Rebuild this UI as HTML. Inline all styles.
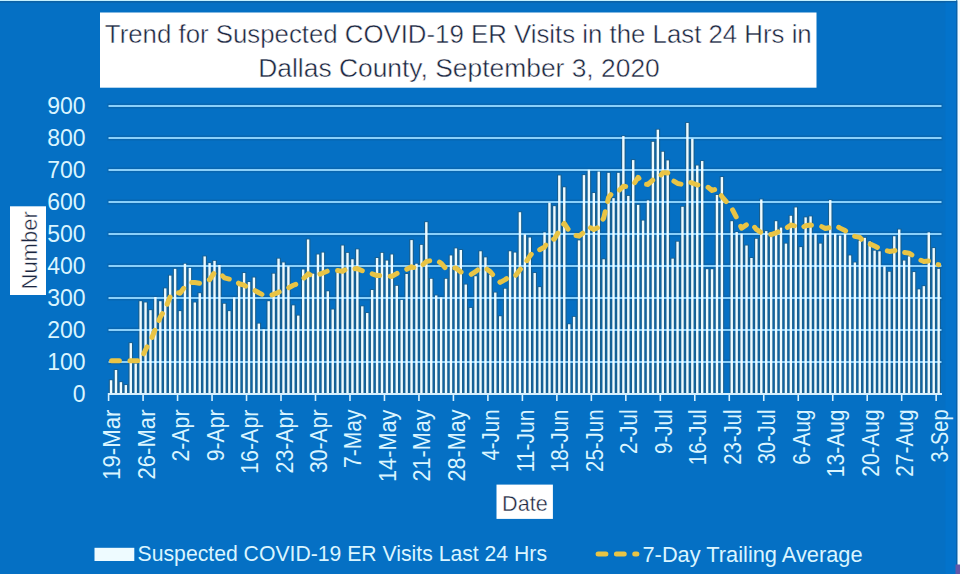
<!DOCTYPE html>
<html><head><meta charset="utf-8"><title>Trend for Suspected COVID-19 ER Visits</title>
<style>html,body{margin:0;padding:0;background:#0570C4;overflow:hidden}svg{display:block}text{font-family:"Liberation Sans",sans-serif}</style>
</head><body>
<svg width="960" height="574" viewBox="0 0 960 574">
<rect x="0" y="0" width="960" height="574" fill="#0570C4"/>
<rect x="0" y="0" width="960" height="1" fill="#C4F0FF"/>
<rect x="0" y="1" width="957" height="1.6" fill="#0C62A6"/>
<rect x="945.5" y="2.5" width="11" height="571.5" fill="#0373CB"/>
<rect x="956.3" y="0" width="1.2" height="574" fill="#0A5C9C"/>
<rect x="957.5" y="0" width="2.5" height="574" fill="#F2FBFF"/>
<rect x="955.5" y="564.5" width="4.5" height="9.5" fill="#6458A8"/>
<rect x="100" y="12.5" width="716.5" height="75.2" fill="#FFFFFF"/>
<text x="458.3" y="43" font-size="25.8" fill="#1B2640" stroke="#FFFFFF" stroke-width="0.45" text-anchor="middle">Trend for Suspected COVID-19 ER Visits in the Last 24 Hrs in</text>
<text x="459" y="77" font-size="26.4" fill="#1B2640" stroke="#FFFFFF" stroke-width="0.45" text-anchor="middle">Dallas County, September 3, 2020</text>
<rect x="108.76" y="379.44" width="4.6" height="14.56" fill="#1A5E8C"/>
<rect x="113.69" y="369.20" width="4.6" height="24.80" fill="#1A5E8C"/>
<rect x="118.62" y="381.36" width="4.6" height="12.64" fill="#1A5E8C"/>
<rect x="123.54" y="384.24" width="4.6" height="9.76" fill="#1A5E8C"/>
<rect x="128.47" y="342.32" width="4.6" height="51.68" fill="#1A5E8C"/>
<rect x="133.39" y="362.80" width="4.6" height="31.20" fill="#1A5E8C"/>
<rect x="138.32" y="300.40" width="4.6" height="93.60" fill="#1A5E8C"/>
<rect x="143.25" y="301.68" width="4.6" height="92.32" fill="#1A5E8C"/>
<rect x="148.17" y="309.36" width="4.6" height="84.64" fill="#1A5E8C"/>
<rect x="153.10" y="296.24" width="4.6" height="97.76" fill="#1A5E8C"/>
<rect x="158.02" y="300.40" width="4.6" height="93.60" fill="#1A5E8C"/>
<rect x="162.95" y="287.60" width="4.6" height="106.40" fill="#1A5E8C"/>
<rect x="167.88" y="274.80" width="4.6" height="119.20" fill="#1A5E8C"/>
<rect x="172.80" y="268.08" width="4.6" height="125.92" fill="#1A5E8C"/>
<rect x="177.73" y="310.32" width="4.6" height="83.68" fill="#1A5E8C"/>
<rect x="182.65" y="262.96" width="4.6" height="131.04" fill="#1A5E8C"/>
<rect x="187.58" y="267.12" width="4.6" height="126.88" fill="#1A5E8C"/>
<rect x="192.51" y="301.68" width="4.6" height="92.32" fill="#1A5E8C"/>
<rect x="197.43" y="292.40" width="4.6" height="101.60" fill="#1A5E8C"/>
<rect x="202.36" y="255.60" width="4.6" height="138.40" fill="#1A5E8C"/>
<rect x="207.28" y="262.32" width="4.6" height="131.68" fill="#1A5E8C"/>
<rect x="212.21" y="260.08" width="4.6" height="133.92" fill="#1A5E8C"/>
<rect x="217.14" y="264.24" width="4.6" height="129.76" fill="#1A5E8C"/>
<rect x="222.06" y="302.96" width="4.6" height="91.04" fill="#1A5E8C"/>
<rect x="226.99" y="310.32" width="4.6" height="83.68" fill="#1A5E8C"/>
<rect x="231.91" y="296.56" width="4.6" height="97.44" fill="#1A5E8C"/>
<rect x="236.84" y="284.08" width="4.6" height="109.92" fill="#1A5E8C"/>
<rect x="241.77" y="272.24" width="4.6" height="121.76" fill="#1A5E8C"/>
<rect x="246.69" y="281.20" width="4.6" height="112.80" fill="#1A5E8C"/>
<rect x="251.62" y="276.72" width="4.6" height="117.28" fill="#1A5E8C"/>
<rect x="256.54" y="322.80" width="4.6" height="71.20" fill="#1A5E8C"/>
<rect x="261.47" y="328.56" width="4.6" height="65.44" fill="#1A5E8C"/>
<rect x="266.40" y="300.40" width="4.6" height="93.60" fill="#1A5E8C"/>
<rect x="271.32" y="272.88" width="4.6" height="121.12" fill="#1A5E8C"/>
<rect x="276.25" y="257.84" width="4.6" height="136.16" fill="#1A5E8C"/>
<rect x="281.17" y="261.68" width="4.6" height="132.32" fill="#1A5E8C"/>
<rect x="286.10" y="265.52" width="4.6" height="128.48" fill="#1A5E8C"/>
<rect x="291.03" y="304.56" width="4.6" height="89.44" fill="#1A5E8C"/>
<rect x="295.95" y="314.80" width="4.6" height="79.20" fill="#1A5E8C"/>
<rect x="300.88" y="268.72" width="4.6" height="125.28" fill="#1A5E8C"/>
<rect x="305.80" y="238.64" width="4.6" height="155.36" fill="#1A5E8C"/>
<rect x="310.73" y="272.88" width="4.6" height="121.12" fill="#1A5E8C"/>
<rect x="315.66" y="253.68" width="4.6" height="140.32" fill="#1A5E8C"/>
<rect x="320.58" y="251.76" width="4.6" height="142.24" fill="#1A5E8C"/>
<rect x="325.51" y="290.48" width="4.6" height="103.52" fill="#1A5E8C"/>
<rect x="330.43" y="308.72" width="4.6" height="85.28" fill="#1A5E8C"/>
<rect x="335.36" y="271.60" width="4.6" height="122.40" fill="#1A5E8C"/>
<rect x="340.29" y="244.72" width="4.6" height="149.28" fill="#1A5E8C"/>
<rect x="345.21" y="252.08" width="4.6" height="141.92" fill="#1A5E8C"/>
<rect x="350.14" y="258.48" width="4.6" height="135.52" fill="#1A5E8C"/>
<rect x="355.06" y="248.56" width="4.6" height="145.44" fill="#1A5E8C"/>
<rect x="359.99" y="305.52" width="4.6" height="88.48" fill="#1A5E8C"/>
<rect x="364.92" y="312.24" width="4.6" height="81.76" fill="#1A5E8C"/>
<rect x="369.84" y="289.20" width="4.6" height="104.80" fill="#1A5E8C"/>
<rect x="374.77" y="257.20" width="4.6" height="136.80" fill="#1A5E8C"/>
<rect x="379.69" y="252.08" width="4.6" height="141.92" fill="#1A5E8C"/>
<rect x="384.62" y="259.76" width="4.6" height="134.24" fill="#1A5E8C"/>
<rect x="389.55" y="253.68" width="4.6" height="140.32" fill="#1A5E8C"/>
<rect x="394.47" y="285.04" width="4.6" height="108.96" fill="#1A5E8C"/>
<rect x="399.40" y="299.12" width="4.6" height="94.88" fill="#1A5E8C"/>
<rect x="404.33" y="273.20" width="4.6" height="120.80" fill="#1A5E8C"/>
<rect x="409.25" y="239.28" width="4.6" height="154.72" fill="#1A5E8C"/>
<rect x="414.18" y="262.96" width="4.6" height="131.04" fill="#1A5E8C"/>
<rect x="419.10" y="244.08" width="4.6" height="149.92" fill="#1A5E8C"/>
<rect x="424.03" y="221.36" width="4.6" height="172.64" fill="#1A5E8C"/>
<rect x="428.96" y="278.00" width="4.6" height="116.00" fill="#1A5E8C"/>
<rect x="433.88" y="294.64" width="4.6" height="99.36" fill="#1A5E8C"/>
<rect x="438.81" y="296.56" width="4.6" height="97.44" fill="#1A5E8C"/>
<rect x="443.73" y="278.00" width="4.6" height="116.00" fill="#1A5E8C"/>
<rect x="448.66" y="254.64" width="4.6" height="139.36" fill="#1A5E8C"/>
<rect x="453.59" y="247.60" width="4.6" height="146.40" fill="#1A5E8C"/>
<rect x="458.51" y="249.20" width="4.6" height="144.80" fill="#1A5E8C"/>
<rect x="463.44" y="283.76" width="4.6" height="110.24" fill="#1A5E8C"/>
<rect x="468.36" y="307.12" width="4.6" height="86.88" fill="#1A5E8C"/>
<rect x="473.29" y="275.44" width="4.6" height="118.56" fill="#1A5E8C"/>
<rect x="478.22" y="250.48" width="4.6" height="143.52" fill="#1A5E8C"/>
<rect x="483.14" y="256.56" width="4.6" height="137.44" fill="#1A5E8C"/>
<rect x="488.07" y="274.16" width="4.6" height="119.84" fill="#1A5E8C"/>
<rect x="492.99" y="291.76" width="4.6" height="102.24" fill="#1A5E8C"/>
<rect x="497.92" y="315.44" width="4.6" height="78.56" fill="#1A5E8C"/>
<rect x="502.85" y="287.92" width="4.6" height="106.08" fill="#1A5E8C"/>
<rect x="507.77" y="250.48" width="4.6" height="143.52" fill="#1A5E8C"/>
<rect x="512.70" y="251.76" width="4.6" height="142.24" fill="#1A5E8C"/>
<rect x="517.62" y="211.44" width="4.6" height="182.56" fill="#1A5E8C"/>
<rect x="522.55" y="233.52" width="4.6" height="160.48" fill="#1A5E8C"/>
<rect x="527.48" y="236.72" width="4.6" height="157.28" fill="#1A5E8C"/>
<rect x="532.40" y="272.24" width="4.6" height="121.76" fill="#1A5E8C"/>
<rect x="537.33" y="286.32" width="4.6" height="107.68" fill="#1A5E8C"/>
<rect x="542.25" y="231.60" width="4.6" height="162.40" fill="#1A5E8C"/>
<rect x="547.18" y="201.84" width="4.6" height="192.16" fill="#1A5E8C"/>
<rect x="552.11" y="205.36" width="4.6" height="188.64" fill="#1A5E8C"/>
<rect x="557.03" y="174.64" width="4.6" height="219.36" fill="#1A5E8C"/>
<rect x="561.96" y="186.48" width="4.6" height="207.52" fill="#1A5E8C"/>
<rect x="566.88" y="323.44" width="4.6" height="70.56" fill="#1A5E8C"/>
<rect x="571.81" y="316.08" width="4.6" height="77.92" fill="#1A5E8C"/>
<rect x="576.74" y="239.60" width="4.6" height="154.40" fill="#1A5E8C"/>
<rect x="581.66" y="174.32" width="4.6" height="219.68" fill="#1A5E8C"/>
<rect x="586.59" y="168.88" width="4.6" height="225.12" fill="#1A5E8C"/>
<rect x="591.51" y="192.24" width="4.6" height="201.76" fill="#1A5E8C"/>
<rect x="596.44" y="170.80" width="4.6" height="223.20" fill="#1A5E8C"/>
<rect x="601.37" y="258.48" width="4.6" height="135.52" fill="#1A5E8C"/>
<rect x="606.29" y="172.08" width="4.6" height="221.92" fill="#1A5E8C"/>
<rect x="611.22" y="197.36" width="4.6" height="196.64" fill="#1A5E8C"/>
<rect x="616.14" y="172.08" width="4.6" height="221.92" fill="#1A5E8C"/>
<rect x="621.07" y="135.28" width="4.6" height="258.72" fill="#1A5E8C"/>
<rect x="626.00" y="195.12" width="4.6" height="198.88" fill="#1A5E8C"/>
<rect x="630.92" y="159.28" width="4.6" height="234.72" fill="#1A5E8C"/>
<rect x="635.85" y="204.08" width="4.6" height="189.92" fill="#1A5E8C"/>
<rect x="640.77" y="219.76" width="4.6" height="174.24" fill="#1A5E8C"/>
<rect x="645.70" y="199.60" width="4.6" height="194.40" fill="#1A5E8C"/>
<rect x="650.63" y="141.04" width="4.6" height="252.96" fill="#1A5E8C"/>
<rect x="655.55" y="128.88" width="4.6" height="265.12" fill="#1A5E8C"/>
<rect x="660.48" y="150.96" width="4.6" height="243.04" fill="#1A5E8C"/>
<rect x="665.41" y="159.60" width="4.6" height="234.40" fill="#1A5E8C"/>
<rect x="670.33" y="257.84" width="4.6" height="136.16" fill="#1A5E8C"/>
<rect x="675.26" y="240.88" width="4.6" height="153.12" fill="#1A5E8C"/>
<rect x="680.18" y="206.00" width="4.6" height="188.00" fill="#1A5E8C"/>
<rect x="685.11" y="122.16" width="4.6" height="271.84" fill="#1A5E8C"/>
<rect x="690.04" y="137.84" width="4.6" height="256.16" fill="#1A5E8C"/>
<rect x="694.96" y="164.72" width="4.6" height="229.28" fill="#1A5E8C"/>
<rect x="699.89" y="160.24" width="4.6" height="233.76" fill="#1A5E8C"/>
<rect x="704.81" y="268.40" width="4.6" height="125.60" fill="#1A5E8C"/>
<rect x="709.74" y="268.40" width="4.6" height="125.60" fill="#1A5E8C"/>
<rect x="714.67" y="194.16" width="4.6" height="199.84" fill="#1A5E8C"/>
<rect x="719.59" y="176.24" width="4.6" height="217.76" fill="#1A5E8C"/>
<rect x="729.44" y="220.40" width="4.6" height="173.60" fill="#1A5E8C"/>
<rect x="734.37" y="231.28" width="4.6" height="162.72" fill="#1A5E8C"/>
<rect x="739.30" y="232.88" width="4.6" height="161.12" fill="#1A5E8C"/>
<rect x="744.22" y="244.72" width="4.6" height="149.28" fill="#1A5E8C"/>
<rect x="749.15" y="257.20" width="4.6" height="136.80" fill="#1A5E8C"/>
<rect x="754.07" y="238.00" width="4.6" height="156.00" fill="#1A5E8C"/>
<rect x="759.00" y="198.64" width="4.6" height="195.36" fill="#1A5E8C"/>
<rect x="763.93" y="230.32" width="4.6" height="163.68" fill="#1A5E8C"/>
<rect x="768.85" y="235.44" width="4.6" height="158.56" fill="#1A5E8C"/>
<rect x="773.78" y="220.40" width="4.6" height="173.60" fill="#1A5E8C"/>
<rect x="778.70" y="226.80" width="4.6" height="167.20" fill="#1A5E8C"/>
<rect x="783.63" y="242.80" width="4.6" height="151.20" fill="#1A5E8C"/>
<rect x="788.56" y="214.96" width="4.6" height="179.04" fill="#1A5E8C"/>
<rect x="793.48" y="206.64" width="4.6" height="187.36" fill="#1A5E8C"/>
<rect x="798.41" y="246.32" width="4.6" height="147.68" fill="#1A5E8C"/>
<rect x="803.33" y="216.56" width="4.6" height="177.44" fill="#1A5E8C"/>
<rect x="808.26" y="215.60" width="4.6" height="178.40" fill="#1A5E8C"/>
<rect x="813.19" y="232.88" width="4.6" height="161.12" fill="#1A5E8C"/>
<rect x="818.11" y="242.80" width="4.6" height="151.20" fill="#1A5E8C"/>
<rect x="823.04" y="232.88" width="4.6" height="161.12" fill="#1A5E8C"/>
<rect x="827.96" y="199.28" width="4.6" height="194.72" fill="#1A5E8C"/>
<rect x="832.89" y="232.88" width="4.6" height="161.12" fill="#1A5E8C"/>
<rect x="837.82" y="234.80" width="4.6" height="159.20" fill="#1A5E8C"/>
<rect x="842.74" y="232.88" width="4.6" height="161.12" fill="#1A5E8C"/>
<rect x="847.67" y="254.64" width="4.6" height="139.36" fill="#1A5E8C"/>
<rect x="852.59" y="261.68" width="4.6" height="132.32" fill="#1A5E8C"/>
<rect x="857.52" y="239.92" width="4.6" height="154.08" fill="#1A5E8C"/>
<rect x="862.45" y="237.04" width="4.6" height="156.96" fill="#1A5E8C"/>
<rect x="867.37" y="240.56" width="4.6" height="153.44" fill="#1A5E8C"/>
<rect x="872.30" y="249.84" width="4.6" height="144.16" fill="#1A5E8C"/>
<rect x="877.22" y="250.48" width="4.6" height="143.52" fill="#1A5E8C"/>
<rect x="882.15" y="265.52" width="4.6" height="128.48" fill="#1A5E8C"/>
<rect x="887.08" y="270.96" width="4.6" height="123.04" fill="#1A5E8C"/>
<rect x="892.00" y="235.44" width="4.6" height="158.56" fill="#1A5E8C"/>
<rect x="896.93" y="228.72" width="4.6" height="165.28" fill="#1A5E8C"/>
<rect x="901.85" y="259.76" width="4.6" height="134.24" fill="#1A5E8C"/>
<rect x="906.78" y="255.60" width="4.6" height="138.40" fill="#1A5E8C"/>
<rect x="911.71" y="271.28" width="4.6" height="122.72" fill="#1A5E8C"/>
<rect x="916.63" y="288.56" width="4.6" height="105.44" fill="#1A5E8C"/>
<rect x="921.56" y="285.36" width="4.6" height="108.64" fill="#1A5E8C"/>
<rect x="926.48" y="231.60" width="4.6" height="162.40" fill="#1A5E8C"/>
<rect x="931.41" y="247.28" width="4.6" height="146.72" fill="#1A5E8C"/>
<rect x="936.34" y="268.08" width="4.6" height="125.92" fill="#1A5E8C"/>
<line x1="107.5" y1="362.0" x2="942.5" y2="362.0" stroke="#0B62A8" stroke-width="5" opacity="0.7"/>
<line x1="108.5" y1="362.0" x2="941.5" y2="362.0" stroke="#8AD0FA" stroke-width="2"/>
<line x1="107.5" y1="330.0" x2="942.5" y2="330.0" stroke="#0B62A8" stroke-width="5" opacity="0.7"/>
<line x1="108.5" y1="330.0" x2="941.5" y2="330.0" stroke="#8AD0FA" stroke-width="2"/>
<line x1="107.5" y1="298.0" x2="942.5" y2="298.0" stroke="#0B62A8" stroke-width="5" opacity="0.7"/>
<line x1="108.5" y1="298.0" x2="941.5" y2="298.0" stroke="#8AD0FA" stroke-width="2"/>
<line x1="107.5" y1="266.0" x2="942.5" y2="266.0" stroke="#0B62A8" stroke-width="5" opacity="0.7"/>
<line x1="108.5" y1="266.0" x2="941.5" y2="266.0" stroke="#8AD0FA" stroke-width="2"/>
<line x1="107.5" y1="234.0" x2="942.5" y2="234.0" stroke="#0B62A8" stroke-width="5" opacity="0.7"/>
<line x1="108.5" y1="234.0" x2="941.5" y2="234.0" stroke="#8AD0FA" stroke-width="2"/>
<line x1="107.5" y1="202.0" x2="942.5" y2="202.0" stroke="#0B62A8" stroke-width="5" opacity="0.7"/>
<line x1="108.5" y1="202.0" x2="941.5" y2="202.0" stroke="#8AD0FA" stroke-width="2"/>
<line x1="107.5" y1="170.0" x2="942.5" y2="170.0" stroke="#0B62A8" stroke-width="5" opacity="0.7"/>
<line x1="108.5" y1="170.0" x2="941.5" y2="170.0" stroke="#8AD0FA" stroke-width="2"/>
<line x1="107.5" y1="138.0" x2="942.5" y2="138.0" stroke="#0B62A8" stroke-width="5" opacity="0.7"/>
<line x1="108.5" y1="138.0" x2="941.5" y2="138.0" stroke="#8AD0FA" stroke-width="2"/>
<line x1="107.5" y1="106.0" x2="942.5" y2="106.0" stroke="#0B62A8" stroke-width="5" opacity="0.7"/>
<line x1="108.5" y1="106.0" x2="941.5" y2="106.0" stroke="#8AD0FA" stroke-width="2"/>
<text x="85.5" y="401.7" font-size="23" fill="#DAF5FF" text-anchor="end">0</text>
<text x="85.5" y="369.7" font-size="23" fill="#DAF5FF" text-anchor="end">100</text>
<text x="85.5" y="337.7" font-size="23" fill="#DAF5FF" text-anchor="end">200</text>
<text x="85.5" y="305.7" font-size="23" fill="#DAF5FF" text-anchor="end">300</text>
<text x="85.5" y="273.7" font-size="23" fill="#DAF5FF" text-anchor="end">400</text>
<text x="85.5" y="241.7" font-size="23" fill="#DAF5FF" text-anchor="end">500</text>
<text x="85.5" y="209.7" font-size="23" fill="#DAF5FF" text-anchor="end">600</text>
<text x="85.5" y="177.7" font-size="23" fill="#DAF5FF" text-anchor="end">700</text>
<text x="85.5" y="145.7" font-size="23" fill="#DAF5FF" text-anchor="end">800</text>
<text x="85.5" y="113.7" font-size="23" fill="#DAF5FF" text-anchor="end">900</text>
<rect x="109.86" y="380.24" width="2.4" height="13.76" fill="#EEFBFF"/>
<rect x="114.79" y="370.00" width="2.4" height="24.00" fill="#EEFBFF"/>
<rect x="119.72" y="382.16" width="2.4" height="11.84" fill="#EEFBFF"/>
<rect x="124.64" y="385.04" width="2.4" height="8.96" fill="#EEFBFF"/>
<rect x="129.57" y="343.12" width="2.4" height="50.88" fill="#EEFBFF"/>
<rect x="134.49" y="363.60" width="2.4" height="30.40" fill="#EEFBFF"/>
<rect x="139.42" y="301.20" width="2.4" height="92.80" fill="#EEFBFF"/>
<rect x="144.35" y="302.48" width="2.4" height="91.52" fill="#EEFBFF"/>
<rect x="149.27" y="310.16" width="2.4" height="83.84" fill="#EEFBFF"/>
<rect x="154.20" y="297.04" width="2.4" height="96.96" fill="#EEFBFF"/>
<rect x="159.12" y="301.20" width="2.4" height="92.80" fill="#EEFBFF"/>
<rect x="164.05" y="288.40" width="2.4" height="105.60" fill="#EEFBFF"/>
<rect x="168.98" y="275.60" width="2.4" height="118.40" fill="#EEFBFF"/>
<rect x="173.90" y="268.88" width="2.4" height="125.12" fill="#EEFBFF"/>
<rect x="178.83" y="311.12" width="2.4" height="82.88" fill="#EEFBFF"/>
<rect x="183.75" y="263.76" width="2.4" height="130.24" fill="#EEFBFF"/>
<rect x="188.68" y="267.92" width="2.4" height="126.08" fill="#EEFBFF"/>
<rect x="193.61" y="302.48" width="2.4" height="91.52" fill="#EEFBFF"/>
<rect x="198.53" y="293.20" width="2.4" height="100.80" fill="#EEFBFF"/>
<rect x="203.46" y="256.40" width="2.4" height="137.60" fill="#EEFBFF"/>
<rect x="208.38" y="263.12" width="2.4" height="130.88" fill="#EEFBFF"/>
<rect x="213.31" y="260.88" width="2.4" height="133.12" fill="#EEFBFF"/>
<rect x="218.24" y="265.04" width="2.4" height="128.96" fill="#EEFBFF"/>
<rect x="223.16" y="303.76" width="2.4" height="90.24" fill="#EEFBFF"/>
<rect x="228.09" y="311.12" width="2.4" height="82.88" fill="#EEFBFF"/>
<rect x="233.01" y="297.36" width="2.4" height="96.64" fill="#EEFBFF"/>
<rect x="237.94" y="284.88" width="2.4" height="109.12" fill="#EEFBFF"/>
<rect x="242.87" y="273.04" width="2.4" height="120.96" fill="#EEFBFF"/>
<rect x="247.79" y="282.00" width="2.4" height="112.00" fill="#EEFBFF"/>
<rect x="252.72" y="277.52" width="2.4" height="116.48" fill="#EEFBFF"/>
<rect x="257.64" y="323.60" width="2.4" height="70.40" fill="#EEFBFF"/>
<rect x="262.57" y="329.36" width="2.4" height="64.64" fill="#EEFBFF"/>
<rect x="267.50" y="301.20" width="2.4" height="92.80" fill="#EEFBFF"/>
<rect x="272.42" y="273.68" width="2.4" height="120.32" fill="#EEFBFF"/>
<rect x="277.35" y="258.64" width="2.4" height="135.36" fill="#EEFBFF"/>
<rect x="282.27" y="262.48" width="2.4" height="131.52" fill="#EEFBFF"/>
<rect x="287.20" y="266.32" width="2.4" height="127.68" fill="#EEFBFF"/>
<rect x="292.13" y="305.36" width="2.4" height="88.64" fill="#EEFBFF"/>
<rect x="297.05" y="315.60" width="2.4" height="78.40" fill="#EEFBFF"/>
<rect x="301.98" y="269.52" width="2.4" height="124.48" fill="#EEFBFF"/>
<rect x="306.90" y="239.44" width="2.4" height="154.56" fill="#EEFBFF"/>
<rect x="311.83" y="273.68" width="2.4" height="120.32" fill="#EEFBFF"/>
<rect x="316.76" y="254.48" width="2.4" height="139.52" fill="#EEFBFF"/>
<rect x="321.68" y="252.56" width="2.4" height="141.44" fill="#EEFBFF"/>
<rect x="326.61" y="291.28" width="2.4" height="102.72" fill="#EEFBFF"/>
<rect x="331.53" y="309.52" width="2.4" height="84.48" fill="#EEFBFF"/>
<rect x="336.46" y="272.40" width="2.4" height="121.60" fill="#EEFBFF"/>
<rect x="341.39" y="245.52" width="2.4" height="148.48" fill="#EEFBFF"/>
<rect x="346.31" y="252.88" width="2.4" height="141.12" fill="#EEFBFF"/>
<rect x="351.24" y="259.28" width="2.4" height="134.72" fill="#EEFBFF"/>
<rect x="356.16" y="249.36" width="2.4" height="144.64" fill="#EEFBFF"/>
<rect x="361.09" y="306.32" width="2.4" height="87.68" fill="#EEFBFF"/>
<rect x="366.02" y="313.04" width="2.4" height="80.96" fill="#EEFBFF"/>
<rect x="370.94" y="290.00" width="2.4" height="104.00" fill="#EEFBFF"/>
<rect x="375.87" y="258.00" width="2.4" height="136.00" fill="#EEFBFF"/>
<rect x="380.79" y="252.88" width="2.4" height="141.12" fill="#EEFBFF"/>
<rect x="385.72" y="260.56" width="2.4" height="133.44" fill="#EEFBFF"/>
<rect x="390.65" y="254.48" width="2.4" height="139.52" fill="#EEFBFF"/>
<rect x="395.57" y="285.84" width="2.4" height="108.16" fill="#EEFBFF"/>
<rect x="400.50" y="299.92" width="2.4" height="94.08" fill="#EEFBFF"/>
<rect x="405.43" y="274.00" width="2.4" height="120.00" fill="#EEFBFF"/>
<rect x="410.35" y="240.08" width="2.4" height="153.92" fill="#EEFBFF"/>
<rect x="415.28" y="263.76" width="2.4" height="130.24" fill="#EEFBFF"/>
<rect x="420.20" y="244.88" width="2.4" height="149.12" fill="#EEFBFF"/>
<rect x="425.13" y="222.16" width="2.4" height="171.84" fill="#EEFBFF"/>
<rect x="430.06" y="278.80" width="2.4" height="115.20" fill="#EEFBFF"/>
<rect x="434.98" y="295.44" width="2.4" height="98.56" fill="#EEFBFF"/>
<rect x="439.91" y="297.36" width="2.4" height="96.64" fill="#EEFBFF"/>
<rect x="444.83" y="278.80" width="2.4" height="115.20" fill="#EEFBFF"/>
<rect x="449.76" y="255.44" width="2.4" height="138.56" fill="#EEFBFF"/>
<rect x="454.69" y="248.40" width="2.4" height="145.60" fill="#EEFBFF"/>
<rect x="459.61" y="250.00" width="2.4" height="144.00" fill="#EEFBFF"/>
<rect x="464.54" y="284.56" width="2.4" height="109.44" fill="#EEFBFF"/>
<rect x="469.46" y="307.92" width="2.4" height="86.08" fill="#EEFBFF"/>
<rect x="474.39" y="276.24" width="2.4" height="117.76" fill="#EEFBFF"/>
<rect x="479.32" y="251.28" width="2.4" height="142.72" fill="#EEFBFF"/>
<rect x="484.24" y="257.36" width="2.4" height="136.64" fill="#EEFBFF"/>
<rect x="489.17" y="274.96" width="2.4" height="119.04" fill="#EEFBFF"/>
<rect x="494.09" y="292.56" width="2.4" height="101.44" fill="#EEFBFF"/>
<rect x="499.02" y="316.24" width="2.4" height="77.76" fill="#EEFBFF"/>
<rect x="503.95" y="288.72" width="2.4" height="105.28" fill="#EEFBFF"/>
<rect x="508.87" y="251.28" width="2.4" height="142.72" fill="#EEFBFF"/>
<rect x="513.80" y="252.56" width="2.4" height="141.44" fill="#EEFBFF"/>
<rect x="518.72" y="212.24" width="2.4" height="181.76" fill="#EEFBFF"/>
<rect x="523.65" y="234.32" width="2.4" height="159.68" fill="#EEFBFF"/>
<rect x="528.58" y="237.52" width="2.4" height="156.48" fill="#EEFBFF"/>
<rect x="533.50" y="273.04" width="2.4" height="120.96" fill="#EEFBFF"/>
<rect x="538.43" y="287.12" width="2.4" height="106.88" fill="#EEFBFF"/>
<rect x="543.35" y="232.40" width="2.4" height="161.60" fill="#EEFBFF"/>
<rect x="548.28" y="202.64" width="2.4" height="191.36" fill="#EEFBFF"/>
<rect x="553.21" y="206.16" width="2.4" height="187.84" fill="#EEFBFF"/>
<rect x="558.13" y="175.44" width="2.4" height="218.56" fill="#EEFBFF"/>
<rect x="563.06" y="187.28" width="2.4" height="206.72" fill="#EEFBFF"/>
<rect x="567.98" y="324.24" width="2.4" height="69.76" fill="#EEFBFF"/>
<rect x="572.91" y="316.88" width="2.4" height="77.12" fill="#EEFBFF"/>
<rect x="577.84" y="240.40" width="2.4" height="153.60" fill="#EEFBFF"/>
<rect x="582.76" y="175.12" width="2.4" height="218.88" fill="#EEFBFF"/>
<rect x="587.69" y="169.68" width="2.4" height="224.32" fill="#EEFBFF"/>
<rect x="592.61" y="193.04" width="2.4" height="200.96" fill="#EEFBFF"/>
<rect x="597.54" y="171.60" width="2.4" height="222.40" fill="#EEFBFF"/>
<rect x="602.47" y="259.28" width="2.4" height="134.72" fill="#EEFBFF"/>
<rect x="607.39" y="172.88" width="2.4" height="221.12" fill="#EEFBFF"/>
<rect x="612.32" y="198.16" width="2.4" height="195.84" fill="#EEFBFF"/>
<rect x="617.24" y="172.88" width="2.4" height="221.12" fill="#EEFBFF"/>
<rect x="622.17" y="136.08" width="2.4" height="257.92" fill="#EEFBFF"/>
<rect x="627.10" y="195.92" width="2.4" height="198.08" fill="#EEFBFF"/>
<rect x="632.02" y="160.08" width="2.4" height="233.92" fill="#EEFBFF"/>
<rect x="636.95" y="204.88" width="2.4" height="189.12" fill="#EEFBFF"/>
<rect x="641.87" y="220.56" width="2.4" height="173.44" fill="#EEFBFF"/>
<rect x="646.80" y="200.40" width="2.4" height="193.60" fill="#EEFBFF"/>
<rect x="651.73" y="141.84" width="2.4" height="252.16" fill="#EEFBFF"/>
<rect x="656.65" y="129.68" width="2.4" height="264.32" fill="#EEFBFF"/>
<rect x="661.58" y="151.76" width="2.4" height="242.24" fill="#EEFBFF"/>
<rect x="666.51" y="160.40" width="2.4" height="233.60" fill="#EEFBFF"/>
<rect x="671.43" y="258.64" width="2.4" height="135.36" fill="#EEFBFF"/>
<rect x="676.36" y="241.68" width="2.4" height="152.32" fill="#EEFBFF"/>
<rect x="681.28" y="206.80" width="2.4" height="187.20" fill="#EEFBFF"/>
<rect x="686.21" y="122.96" width="2.4" height="271.04" fill="#EEFBFF"/>
<rect x="691.14" y="138.64" width="2.4" height="255.36" fill="#EEFBFF"/>
<rect x="696.06" y="165.52" width="2.4" height="228.48" fill="#EEFBFF"/>
<rect x="700.99" y="161.04" width="2.4" height="232.96" fill="#EEFBFF"/>
<rect x="705.91" y="269.20" width="2.4" height="124.80" fill="#EEFBFF"/>
<rect x="710.84" y="269.20" width="2.4" height="124.80" fill="#EEFBFF"/>
<rect x="715.77" y="194.96" width="2.4" height="199.04" fill="#EEFBFF"/>
<rect x="720.69" y="177.04" width="2.4" height="216.96" fill="#EEFBFF"/>
<rect x="730.54" y="221.20" width="2.4" height="172.80" fill="#EEFBFF"/>
<rect x="735.47" y="232.08" width="2.4" height="161.92" fill="#EEFBFF"/>
<rect x="740.40" y="233.68" width="2.4" height="160.32" fill="#EEFBFF"/>
<rect x="745.32" y="245.52" width="2.4" height="148.48" fill="#EEFBFF"/>
<rect x="750.25" y="258.00" width="2.4" height="136.00" fill="#EEFBFF"/>
<rect x="755.17" y="238.80" width="2.4" height="155.20" fill="#EEFBFF"/>
<rect x="760.10" y="199.44" width="2.4" height="194.56" fill="#EEFBFF"/>
<rect x="765.03" y="231.12" width="2.4" height="162.88" fill="#EEFBFF"/>
<rect x="769.95" y="236.24" width="2.4" height="157.76" fill="#EEFBFF"/>
<rect x="774.88" y="221.20" width="2.4" height="172.80" fill="#EEFBFF"/>
<rect x="779.80" y="227.60" width="2.4" height="166.40" fill="#EEFBFF"/>
<rect x="784.73" y="243.60" width="2.4" height="150.40" fill="#EEFBFF"/>
<rect x="789.66" y="215.76" width="2.4" height="178.24" fill="#EEFBFF"/>
<rect x="794.58" y="207.44" width="2.4" height="186.56" fill="#EEFBFF"/>
<rect x="799.51" y="247.12" width="2.4" height="146.88" fill="#EEFBFF"/>
<rect x="804.43" y="217.36" width="2.4" height="176.64" fill="#EEFBFF"/>
<rect x="809.36" y="216.40" width="2.4" height="177.60" fill="#EEFBFF"/>
<rect x="814.29" y="233.68" width="2.4" height="160.32" fill="#EEFBFF"/>
<rect x="819.21" y="243.60" width="2.4" height="150.40" fill="#EEFBFF"/>
<rect x="824.14" y="233.68" width="2.4" height="160.32" fill="#EEFBFF"/>
<rect x="829.06" y="200.08" width="2.4" height="193.92" fill="#EEFBFF"/>
<rect x="833.99" y="233.68" width="2.4" height="160.32" fill="#EEFBFF"/>
<rect x="838.92" y="235.60" width="2.4" height="158.40" fill="#EEFBFF"/>
<rect x="843.84" y="233.68" width="2.4" height="160.32" fill="#EEFBFF"/>
<rect x="848.77" y="255.44" width="2.4" height="138.56" fill="#EEFBFF"/>
<rect x="853.69" y="262.48" width="2.4" height="131.52" fill="#EEFBFF"/>
<rect x="858.62" y="240.72" width="2.4" height="153.28" fill="#EEFBFF"/>
<rect x="863.55" y="237.84" width="2.4" height="156.16" fill="#EEFBFF"/>
<rect x="868.47" y="241.36" width="2.4" height="152.64" fill="#EEFBFF"/>
<rect x="873.40" y="250.64" width="2.4" height="143.36" fill="#EEFBFF"/>
<rect x="878.32" y="251.28" width="2.4" height="142.72" fill="#EEFBFF"/>
<rect x="883.25" y="266.32" width="2.4" height="127.68" fill="#EEFBFF"/>
<rect x="888.18" y="271.76" width="2.4" height="122.24" fill="#EEFBFF"/>
<rect x="893.10" y="236.24" width="2.4" height="157.76" fill="#EEFBFF"/>
<rect x="898.03" y="229.52" width="2.4" height="164.48" fill="#EEFBFF"/>
<rect x="902.95" y="260.56" width="2.4" height="133.44" fill="#EEFBFF"/>
<rect x="907.88" y="256.40" width="2.4" height="137.60" fill="#EEFBFF"/>
<rect x="912.81" y="272.08" width="2.4" height="121.92" fill="#EEFBFF"/>
<rect x="917.73" y="289.36" width="2.4" height="104.64" fill="#EEFBFF"/>
<rect x="922.66" y="286.16" width="2.4" height="107.84" fill="#EEFBFF"/>
<rect x="927.58" y="232.40" width="2.4" height="161.60" fill="#EEFBFF"/>
<rect x="932.51" y="248.08" width="2.4" height="145.92" fill="#EEFBFF"/>
<rect x="937.44" y="268.88" width="2.4" height="125.12" fill="#EEFBFF"/>
<line x1="108.5" y1="394" x2="942" y2="394" stroke="#D6F0FF" stroke-width="2"/>
<line x1="108.60" y1="393" x2="108.60" y2="401" stroke="#D6F0FF" stroke-width="1.6"/>
<line x1="143.08" y1="393" x2="143.08" y2="401" stroke="#D6F0FF" stroke-width="1.6"/>
<line x1="177.56" y1="393" x2="177.56" y2="401" stroke="#D6F0FF" stroke-width="1.6"/>
<line x1="212.05" y1="393" x2="212.05" y2="401" stroke="#D6F0FF" stroke-width="1.6"/>
<line x1="246.53" y1="393" x2="246.53" y2="401" stroke="#D6F0FF" stroke-width="1.6"/>
<line x1="281.01" y1="393" x2="281.01" y2="401" stroke="#D6F0FF" stroke-width="1.6"/>
<line x1="315.49" y1="393" x2="315.49" y2="401" stroke="#D6F0FF" stroke-width="1.6"/>
<line x1="349.98" y1="393" x2="349.98" y2="401" stroke="#D6F0FF" stroke-width="1.6"/>
<line x1="384.46" y1="393" x2="384.46" y2="401" stroke="#D6F0FF" stroke-width="1.6"/>
<line x1="418.94" y1="393" x2="418.94" y2="401" stroke="#D6F0FF" stroke-width="1.6"/>
<line x1="453.42" y1="393" x2="453.42" y2="401" stroke="#D6F0FF" stroke-width="1.6"/>
<line x1="487.90" y1="393" x2="487.90" y2="401" stroke="#D6F0FF" stroke-width="1.6"/>
<line x1="522.39" y1="393" x2="522.39" y2="401" stroke="#D6F0FF" stroke-width="1.6"/>
<line x1="556.87" y1="393" x2="556.87" y2="401" stroke="#D6F0FF" stroke-width="1.6"/>
<line x1="591.35" y1="393" x2="591.35" y2="401" stroke="#D6F0FF" stroke-width="1.6"/>
<line x1="625.83" y1="393" x2="625.83" y2="401" stroke="#D6F0FF" stroke-width="1.6"/>
<line x1="660.32" y1="393" x2="660.32" y2="401" stroke="#D6F0FF" stroke-width="1.6"/>
<line x1="694.80" y1="393" x2="694.80" y2="401" stroke="#D6F0FF" stroke-width="1.6"/>
<line x1="729.28" y1="393" x2="729.28" y2="401" stroke="#D6F0FF" stroke-width="1.6"/>
<line x1="763.76" y1="393" x2="763.76" y2="401" stroke="#D6F0FF" stroke-width="1.6"/>
<line x1="798.24" y1="393" x2="798.24" y2="401" stroke="#D6F0FF" stroke-width="1.6"/>
<line x1="832.73" y1="393" x2="832.73" y2="401" stroke="#D6F0FF" stroke-width="1.6"/>
<line x1="867.21" y1="393" x2="867.21" y2="401" stroke="#D6F0FF" stroke-width="1.6"/>
<line x1="901.69" y1="393" x2="901.69" y2="401" stroke="#D6F0FF" stroke-width="1.6"/>
<line x1="936.17" y1="393" x2="936.17" y2="401" stroke="#D6F0FF" stroke-width="1.6"/>
<text x="120.10" y="409.5" font-size="23.5" fill="#DAF5FF" text-anchor="end" textLength="70.45" lengthAdjust="spacingAndGlyphs" transform="rotate(-90 120.10 409.5)">19-Mar</text>
<text x="154.58" y="409.5" font-size="23.5" fill="#DAF5FF" text-anchor="end" textLength="69.99" lengthAdjust="spacingAndGlyphs" transform="rotate(-90 154.58 409.5)">26-Mar</text>
<text x="189.06" y="409.5" font-size="23.5" fill="#DAF5FF" text-anchor="end" textLength="51.94" lengthAdjust="spacingAndGlyphs" transform="rotate(-90 189.06 409.5)">2-Apr</text>
<text x="223.55" y="409.5" font-size="23.5" fill="#DAF5FF" text-anchor="end" textLength="51.72" lengthAdjust="spacingAndGlyphs" transform="rotate(-90 223.55 409.5)">9-Apr</text>
<text x="258.03" y="409.5" font-size="23.5" fill="#DAF5FF" text-anchor="end" textLength="64.38" lengthAdjust="spacingAndGlyphs" transform="rotate(-90 258.03 409.5)">16-Apr</text>
<text x="292.51" y="409.5" font-size="23.5" fill="#DAF5FF" text-anchor="end" textLength="63.94" lengthAdjust="spacingAndGlyphs" transform="rotate(-90 292.51 409.5)">23-Apr</text>
<text x="326.99" y="409.5" font-size="23.5" fill="#DAF5FF" text-anchor="end" textLength="63.51" lengthAdjust="spacingAndGlyphs" transform="rotate(-90 326.99 409.5)">30-Apr</text>
<text x="361.48" y="409.5" font-size="23.5" fill="#DAF5FF" text-anchor="end" textLength="58.45" lengthAdjust="spacingAndGlyphs" transform="rotate(-90 361.48 409.5)">7-May</text>
<text x="395.96" y="409.5" font-size="23.5" fill="#DAF5FF" text-anchor="end" textLength="72.52" lengthAdjust="spacingAndGlyphs" transform="rotate(-90 395.96 409.5)">14-May</text>
<text x="430.44" y="409.5" font-size="23.5" fill="#DAF5FF" text-anchor="end" textLength="72.08" lengthAdjust="spacingAndGlyphs" transform="rotate(-90 430.44 409.5)">21-May</text>
<text x="464.92" y="409.5" font-size="23.5" fill="#DAF5FF" text-anchor="end" textLength="72.08" lengthAdjust="spacingAndGlyphs" transform="rotate(-90 464.92 409.5)">28-May</text>
<text x="499.40" y="409.5" font-size="23.5" fill="#DAF5FF" text-anchor="end" textLength="51.05" lengthAdjust="spacingAndGlyphs" transform="rotate(-90 499.40 409.5)">4-Jun</text>
<text x="533.89" y="409.5" font-size="23.5" fill="#DAF5FF" text-anchor="end" textLength="62.86" lengthAdjust="spacingAndGlyphs" transform="rotate(-90 533.89 409.5)">11-Jun</text>
<text x="568.37" y="409.5" font-size="23.5" fill="#DAF5FF" text-anchor="end" textLength="62.79" lengthAdjust="spacingAndGlyphs" transform="rotate(-90 568.37 409.5)">18-Jun</text>
<text x="602.85" y="409.5" font-size="23.5" fill="#DAF5FF" text-anchor="end" textLength="62.37" lengthAdjust="spacingAndGlyphs" transform="rotate(-90 602.85 409.5)">25-Jun</text>
<text x="637.33" y="409.5" font-size="23.5" fill="#DAF5FF" text-anchor="end" textLength="44.61" lengthAdjust="spacingAndGlyphs" transform="rotate(-90 637.33 409.5)">2-Jul</text>
<text x="671.82" y="409.5" font-size="23.5" fill="#DAF5FF" text-anchor="end" textLength="44.39" lengthAdjust="spacingAndGlyphs" transform="rotate(-90 671.82 409.5)">9-Jul</text>
<text x="706.30" y="409.5" font-size="23.5" fill="#DAF5FF" text-anchor="end" textLength="55.70" lengthAdjust="spacingAndGlyphs" transform="rotate(-90 706.30 409.5)">16-Jul</text>
<text x="740.78" y="409.5" font-size="23.5" fill="#DAF5FF" text-anchor="end" textLength="55.28" lengthAdjust="spacingAndGlyphs" transform="rotate(-90 740.78 409.5)">23-Jul</text>
<text x="775.26" y="409.5" font-size="23.5" fill="#DAF5FF" text-anchor="end" textLength="54.86" lengthAdjust="spacingAndGlyphs" transform="rotate(-90 775.26 409.5)">30-Jul</text>
<text x="809.74" y="409.5" font-size="23.5" fill="#DAF5FF" text-anchor="end" textLength="55.20" lengthAdjust="spacingAndGlyphs" transform="rotate(-90 809.74 409.5)">6-Aug</text>
<text x="844.23" y="409.5" font-size="23.5" fill="#DAF5FF" text-anchor="end" textLength="67.65" lengthAdjust="spacingAndGlyphs" transform="rotate(-90 844.23 409.5)">13-Aug</text>
<text x="878.71" y="409.5" font-size="23.5" fill="#DAF5FF" text-anchor="end" textLength="67.21" lengthAdjust="spacingAndGlyphs" transform="rotate(-90 878.71 409.5)">20-Aug</text>
<text x="913.19" y="409.5" font-size="23.5" fill="#DAF5FF" text-anchor="end" textLength="67.21" lengthAdjust="spacingAndGlyphs" transform="rotate(-90 913.19 409.5)">27-Aug</text>
<text x="947.67" y="409.5" font-size="23.5" fill="#DAF5FF" text-anchor="end" textLength="53.12" lengthAdjust="spacingAndGlyphs" transform="rotate(-90 947.67 409.5)">3-Sep</text>
<polyline points="111.06,360.77 115.99,360.77 120.92,360.77 125.84,360.77 130.77,360.77 135.69,360.77 140.62,360.77 145.55,349.66 150.47,341.11 155.40,328.95 160.32,316.97 165.25,309.15 170.18,296.58 175.10,291.97 180.03,293.20 184.95,286.57 189.88,282.41 194.81,282.59 199.73,283.28 204.66,280.54 209.58,279.71 214.51,272.54 219.44,272.72 224.36,277.84 229.29,279.07 234.21,279.67 239.14,283.74 244.07,285.15 248.99,288.17 253.92,289.95 258.84,292.79 263.77,295.39 268.70,295.94 273.62,294.34 278.55,292.29 283.47,289.50 288.40,287.90 293.33,285.29 298.25,283.33 303.18,278.80 308.10,273.91 313.03,276.06 317.96,274.91 322.88,272.95 327.81,270.94 332.73,270.07 337.66,270.48 342.59,271.35 347.51,268.38 352.44,269.06 357.36,268.61 362.29,270.75 367.22,271.26 372.14,273.77 377.07,275.55 381.99,275.55 386.92,275.74 391.85,276.47 396.77,273.54 401.70,271.67 406.63,269.38 411.55,266.82 416.48,268.38 421.40,266.14 426.33,261.52 431.26,260.51 436.18,259.87 441.11,263.21 446.03,268.74 450.96,267.55 455.89,268.06 460.81,272.03 465.74,272.86 470.66,274.64 475.59,271.62 480.52,267.69 485.44,267.97 490.37,271.76 495.29,277.84 500.22,282.37 505.15,279.62 510.07,276.06 515.00,276.24 519.92,269.79 524.85,263.99 529.78,256.13 534.70,249.95 539.63,249.73 544.55,247.03 549.48,239.90 554.41,239.03 559.33,230.62 564.26,223.44 569.18,230.75 574.11,235.01 579.04,236.15 583.96,232.22 588.89,227.01 593.81,229.52 598.74,227.28 603.67,218.00 608.59,197.43 613.52,191.39 618.44,191.07 623.37,186.27 628.30,186.69 633.22,185.04 638.15,177.27 643.07,184.08 648.00,184.40 652.93,179.97 657.85,179.05 662.78,172.74 667.71,172.79 672.63,180.47 677.56,183.49 682.48,184.40 687.41,181.70 692.34,182.98 697.26,184.95 702.19,185.04 707.11,186.55 712.04,190.48 716.97,188.79 721.89,196.51 731.74,208.31 736.67,217.82 741.60,228.19 746.52,224.81 751.45,223.21 756.37,229.47 761.30,232.67 766.23,234.09 771.15,234.69 776.08,232.90 781.00,230.34 785.93,228.29 790.86,224.99 795.78,226.14 800.71,228.42 805.63,225.73 810.56,225.04 815.49,225.91 820.41,225.91 825.34,228.47 830.26,227.42 835.19,225.50 840.12,228.10 845.04,230.57 849.97,233.68 854.89,236.38 859.82,237.38 864.75,242.78 869.67,243.87 874.60,246.02 879.52,248.54 884.45,250.09 889.38,251.42 894.30,250.78 899.23,249.59 904.15,252.33 909.08,253.15 914.01,256.13 918.93,259.42 923.86,261.47 928.78,260.93 933.71,263.58 938.64,264.77" fill="none" stroke="#E9C445" stroke-width="5" stroke-linecap="round" stroke-linejoin="round" stroke-dasharray="7.8 10.526" stroke-dashoffset="-0.54"/>
<rect x="10" y="206.3" width="36" height="88.7" fill="#FFFFFF"/>
<text x="37.4" y="289.5" font-size="22" fill="#1B2640" stroke="#FFFFFF" stroke-width="0.4" transform="rotate(-90 37.4 289.5)">Number</text>
<rect x="496.5" y="484.6" width="56.4" height="34.3" fill="#FFFFFF"/>
<text x="502.1" y="510.6" font-size="22.6" textLength="45.6" lengthAdjust="spacingAndGlyphs" fill="#1B2640" stroke="#FFFFFF" stroke-width="0.4">Date</text>
<rect x="94.5" y="547.8" width="39.8" height="13.2" fill="#EEFBFF"/>
<text x="137.6" y="560.8" font-size="21.2" fill="#DAF5FF">Suspected COVID-19 ER Visits Last 24 Hrs</text>
<line x1="598.1" y1="554" x2="636.9" y2="554" stroke="#E9C445" stroke-width="5" stroke-linecap="round" stroke-dasharray="7.8 10.526"/>
<text x="642.5" y="561.5" font-size="21.8" fill="#DAF5FF">7-Day Trailing Average</text>
</svg>
</body></html>
